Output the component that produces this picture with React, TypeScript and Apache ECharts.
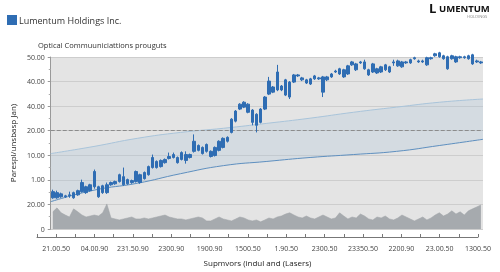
import React, { useEffect, useRef } from "react";
import * as echarts from "echarts";

const yTickLabels = ["0", "20.00", "1.00", "10.00", "20.00", "40.00", "40.00", "50.00"];
const xTickLabels = ["21.00.50", "04.00.90", "231.50.90", "2300.90", "1900.90", "1500.50", "1.90.50", "2300.50", "23350.50", "2200.90", "23.00.50", "1300.50"];

const opens = [
  15.2, 14.8, 14.3, 13.5, 13.9, 14.8, 15.6, 18.9, 17.2, 18.0,
  23.4, 17.2, 17.6, 18.0, 18.9, 19.3, 22.1, 21.3, 20.1, 19.7,
  23.4, 22.1, 23.0, 25.4, 29.1, 27.5, 27.9, 28.3, 29.5, 30.3,
  29.1, 31.1, 30.3, 30.3, 35.7, 34.0, 33.2, 34.4, 31.6, 33.2,
  35.7, 36.9, 37.3, 44.7, 48.0, 50.8, 51.6, 50.8, 48.4, 46.7,
  48.8, 53.7, 60.2, 57.8, 63.9, 58.2, 60.7, 59.8, 62.7, 62.7,
  61.5, 60.7, 61.1, 62.3, 61.5, 61.9, 61.9, 63.1, 64.3, 65.2,
  64.8, 66.4, 68.0, 67.2, 68.0, 68.0, 64.8, 67.2, 65.2, 66.0,
  66.8, 66.0, 68.0, 68.4, 68.0, 68.0, 68.9, 69.7, 68.4, 68.4,
  69.7, 69.7, 71.3, 71.7, 70.5, 70.1, 70.5, 70.1, 70.1, 70.1,
  70.5, 70.9, 68.4, 68.0,
];
const closes = [
  12.7, 12.7, 13.1, 13.1, 13.5, 12.7, 13.9, 15.2, 14.8, 15.6,
  17.2, 13.1, 14.8, 14.8, 18.0, 18.4, 19.3, 18.0, 18.4, 18.9,
  19.3, 18.9, 20.5, 22.1, 25.0, 25.0, 25.4, 27.0, 28.7, 29.1,
  27.0, 28.3, 27.9, 29.1, 31.6, 32.0, 30.7, 31.6, 29.5, 29.9,
  32.0, 33.2, 35.7, 39.3, 43.9, 48.8, 49.6, 47.5, 43.4, 42.2,
  43.4, 48.8, 54.9, 55.7, 56.6, 56.6, 54.5, 53.7, 59.8, 62.3,
  60.7, 59.4, 59.0, 61.1, 61.1, 55.7, 60.7, 61.9, 63.9, 63.1,
  61.9, 63.1, 66.8, 64.8, 67.6, 65.2, 62.7, 63.9, 63.5, 63.9,
  64.8, 63.9, 67.6, 66.4, 66.0, 67.6, 67.6, 69.3, 68.0, 68.0,
  66.8, 69.3, 70.5, 70.1, 69.3, 65.2, 69.3, 68.0, 69.7, 69.7,
  69.3, 67.2, 68.0, 67.6,
];
const lows = [
  12.3, 12.3, 12.7, 12.7, 12.7, 12.3, 13.5, 14.8, 14.3, 15.2,
  16.4, 12.7, 14.3, 14.3, 17.6, 18.0, 18.9, 17.6, 18.0, 18.4,
  18.9, 18.4, 20.1, 21.7, 24.6, 24.6, 25.0, 26.6, 28.3, 28.7,
  26.6, 27.9, 26.6, 28.7, 31.1, 31.6, 30.3, 31.1, 29.1, 29.5,
  31.6, 32.8, 35.2, 38.9, 43.4, 48.4, 49.2, 47.1, 42.2, 39.3,
  43.0, 48.4, 54.5, 55.3, 56.1, 56.1, 54.1, 52.9, 59.4, 61.9,
  60.2, 59.0, 58.6, 60.7, 60.7, 53.7, 60.2, 61.5, 63.5, 62.7,
  61.5, 62.7, 66.4, 64.3, 67.2, 64.8, 62.3, 63.5, 63.1, 63.5,
  64.3, 63.5, 66.4, 66.0, 65.6, 67.2, 67.2, 68.9, 67.6, 67.6,
  66.4, 68.9, 70.1, 69.7, 68.9, 64.8, 68.9, 67.6, 69.3, 69.3,
  68.9, 66.8, 67.6, 67.2,
];
const highs = [
  16.0, 15.6, 14.8, 13.9, 15.2, 15.2, 16.0, 20.1, 17.6, 18.4,
  24.2, 17.6, 18.0, 18.9, 19.3, 19.7, 22.5, 25.0, 20.5, 20.1,
  23.8, 22.5, 23.4, 25.8, 30.3, 27.9, 28.3, 28.7, 31.1, 31.1,
  29.5, 31.6, 31.6, 30.7, 38.5, 34.4, 33.6, 34.8, 32.0, 33.6,
  36.1, 37.3, 37.7, 45.1, 48.4, 51.2, 52.0, 51.2, 48.8, 47.1,
  49.2, 54.1, 61.9, 58.2, 66.8, 58.6, 61.1, 60.2, 63.1, 63.1,
  61.9, 61.1, 61.5, 62.7, 61.9, 62.3, 62.3, 63.5, 64.8, 65.6,
  65.2, 66.8, 68.4, 67.6, 68.4, 68.9, 65.2, 67.6, 65.6, 66.4,
  67.2, 66.4, 68.9, 68.9, 68.4, 68.4, 69.3, 70.1, 68.9, 68.9,
  70.1, 70.1, 71.7, 72.1, 70.9, 70.5, 70.9, 70.5, 70.5, 70.5,
  70.9, 71.3, 68.9, 68.4,
];
const volume = [
  7.0, 8.6, 6.6, 5.7, 4.9, 8.2, 7.0, 5.7, 4.9, 5.3,
  5.7, 5.3, 6.6, 10.2, 4.5, 4.1, 3.7, 4.1, 4.5, 4.9,
  4.1, 4.1, 4.5, 4.1, 4.5, 4.9, 5.3, 5.7, 4.9, 4.5,
  4.1, 4.1, 3.7, 4.1, 4.5, 4.9, 4.5, 3.3, 3.3, 4.1,
  4.9, 4.1, 3.7, 3.3, 4.1, 4.9, 4.5, 3.7, 3.3, 3.7,
  2.9, 3.7, 4.5, 4.1, 4.9, 5.3, 6.1, 6.6, 5.7, 4.9,
  4.5, 5.3, 4.5, 4.1, 4.9, 5.7, 4.9, 4.1, 4.5, 6.6,
  5.3, 4.1, 4.9, 4.5, 6.1, 5.3, 4.1, 3.7, 4.9, 4.5,
  5.3, 4.1, 3.7, 4.5, 5.7, 4.9, 4.1, 3.3, 4.1, 4.9,
  3.7, 4.5, 5.7, 6.6, 5.3, 6.1, 7.4, 6.1, 7.0, 5.7,
  7.4, 8.2, 9.0, 9.8,
];
const bandUpper = [30.7, 33.6, 36.9, 39.3, 41.0, 43.0, 45.1, 47.5, 49.6, 51.6, 52.9];
const bandLower = [11.1, 15.8, 18.6, 22.5, 25.8, 27.5, 29.1, 30.3, 31.6, 34.0, 36.5];
const refLevel = 40;

const FONT = "'Open Sans', 'Noto Sans', sans-serif";
const BLUE = "#2f6db3";

export default function App() {
  const ref = useRef<HTMLDivElement>(null);
  useEffect(() => {
    const chart = echarts.init(ref.current!, null, { renderer: "svg" });
    const cats = opens.map((_, i) => String(i));
    const bandCats = bandUpper.map((_, i) => String(i));
    const candleData = opens.map((o, i) => [o, closes[i], lows[i], highs[i]]);
    const bandDiff = bandUpper.map((u, i) => +(u - bandLower[i]).toFixed(2));
    chart.setOption({
      animation: false,
      textStyle: { fontFamily: FONT },
      title: {
        text: "Optical Commuuniciattions prouguts",
        left: 33,
        top: 36,
        textStyle: { fontSize: 7.5, fontWeight: "normal", color: "#333", fontFamily: FONT },
      },
      legend: {
        left: 2,
        top: 10,
        icon: "rect",
        itemWidth: 8,
        itemHeight: 8,
        itemGap: 4,
        data: ["Lumentum Holdings Inc."],
        textStyle: { fontSize: 9, color: "#333", fontFamily: FONT, padding: [0, 0, 0, -2] },
      },
      graphic: [
        { type: "text", left: 429, top: 1, style: { text: "L", font: `bold 13px ${FONT}`, fill: "#111" } },
        { type: "text", left: 439, top: 3.5, style: { text: "UMENTUM", font: `bold 9.5px ${FONT}`, fill: "#111" } },
        { type: "text", left: 467, top: 14, style: { text: "HOLDINGS", font: `4px ${FONT}`, fill: "#888" } },
      ],
      grid: [
        { left: 34, right: 17, top: 57, bottom: 43, show: true, backgroundColor: "#e4e4e4", borderWidth: 0 },
        { left: 37, right: 22, top: 57, bottom: 35, show: false },
      ],
      xAxis: [
        { type: "category", gridIndex: 0, data: cats, boundaryGap: true, show: false },
        {
          type: "value",
          gridIndex: 1,
          min: 0,
          max: 23,
          interval: 1,
          position: "bottom",
          axisLine: { show: true, lineStyle: { color: "#777", width: 1 } },
          axisTick: { show: true, inside: true, length: 3, lineStyle: { color: "#777" } },
          splitLine: { show: false },
          axisLabel: {
            showMaxLabel: true,
            showMinLabel: true,
            fontSize: 7,
            color: "#444",
            margin: 8,
            fontFamily: FONT,
            formatter: (v: number) => (Math.round(v) % 2 === 1 ? xTickLabels[(Math.round(v) - 1) / 2] : ""),
          },
          name: "Supmvors (indul and (Lasers)",
          nameLocation: "middle",
          nameGap: 21,
          nameTextStyle: { fontSize: 8, color: "#222", fontFamily: FONT },
        },
        { type: "category", gridIndex: 0, data: bandCats, boundaryGap: false, show: false, position: "top" },
      ],
      yAxis: [
        {
          type: "value",
          gridIndex: 0,
          min: 0,
          max: 70,
          interval: 10,
          axisLine: { show: true, lineStyle: { color: "#999" } },
          axisTick: { show: true, length: 3, lineStyle: { color: "#999" } },
          minorTick: { show: true, splitNumber: 2, length: 2, lineStyle: { color: "#aaa" } },
          splitLine: { show: true, lineStyle: { color: "#cdcdcd", width: 1 } },
          axisLabel: {
            fontSize: 7,
            color: "#444",
            margin: 6,
            fontFamily: FONT,
            formatter: (v: number) => yTickLabels[Math.round(v / 10)] ?? "",
          },
          name: "Parespl/unsbasp Jan)",
          nameLocation: "middle",
          nameGap: 26,
          nameTextStyle: { fontSize: 8, color: "#222", fontFamily: FONT },
        },
        { type: "value", gridIndex: 1, min: 0, max: 70, show: false },
      ],
      series: [
        {
          name: "Volume",
          type: "line",
          xAxisIndex: 0,
          yAxisIndex: 0,
          data: volume,
          symbol: "none",
          lineStyle: { color: "#9fa3a7", width: 0.5 },
          areaStyle: { color: "#a6aaae", opacity: 1 },
          z: 1,
        },
        {
          name: "BandLow",
          type: "line",
          xAxisIndex: 2,
          yAxisIndex: 0,
          data: bandLower,
          stack: "band",
          smooth: true,
          symbol: "none",
          lineStyle: { color: "#5e8fbf", width: 1 },
          z: 2,
        },
        {
          name: "BandHigh",
          type: "line",
          xAxisIndex: 2,
          yAxisIndex: 0,
          data: bandDiff,
          stack: "band",
          smooth: true,
          symbol: "none",
          lineStyle: { color: "#a9c4da", width: 1 },
          areaStyle: { color: "rgba(170,196,216,0.38)" },
          z: 2,
        },
        {
          name: "Lumentum Holdings Inc.",
          type: "candlestick",
          xAxisIndex: 0,
          yAxisIndex: 0,
          data: candleData,
          barWidth: 3,
          clip: false,
          itemStyle: { color: BLUE, color0: BLUE, borderColor: BLUE, borderColor0: BLUE, borderWidth: 1 },
          markLine: {
            silent: true,
            symbol: ["none", "none"],
            label: { show: false },
            lineStyle: { type: "dashed", color: "#8c8c8c", width: 1 },
            data: [{ yAxis: refLevel }],
          },
          z: 5,
        },
      ],
    });
    return () => chart.dispose();
  }, []);
  return <div ref={ref} style={{ position: "fixed", left: 0, top: 0, width: 500, height: 272 }} />;
}
